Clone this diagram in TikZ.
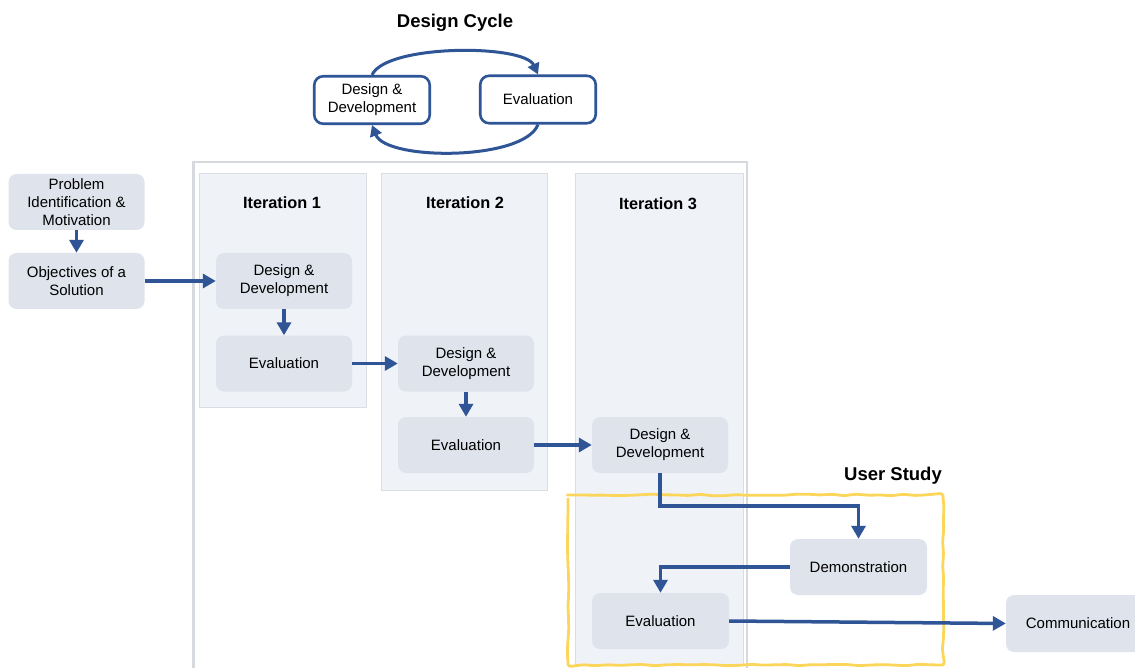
\documentclass[tikz,border=0pt]{standalone}
\usepackage{fontspec}
\setmainfont{Liberation Sans}
\usetikzlibrary{arrows.meta,decorations.pathmorphing}
\definecolor{flowblue}{HTML}{2F5597}
\definecolor{boxgray}{HTML}{DFE4EC}
\definecolor{panelgray}{HTML}{EFF2F7}
\definecolor{panelline}{HTML}{DADEE4}
\definecolor{framegray}{HTML}{D6DADF}
\definecolor{studyyellow}{HTML}{FCD65A}

\begin{document}
\begin{tikzpicture}[x=1pt,y=-1pt,
  stepnode/.style={rounded corners=8pt, fill=boxgray, minimum width=136pt,
    minimum height=56pt, inner sep=0pt, align=center,
    font=\fontsize{15}{18}\selectfont},
  cyclenode/.style={rounded corners=9pt, draw=flowblue, line width=2.6pt,
    fill=white, minimum width=115.5pt, minimum height=47.5pt, inner sep=0pt,
    align=center, font=\fontsize{15}{18}\selectfont},
  panel/.style={fill=panelgray, draw=panelline, line width=0.7pt},
  flow/.style={draw=flowblue, line width=3.5pt, line join=miter,
    -{Triangle[length=13pt,width=14pt]}},
  cyc/.style={draw=flowblue, line width=3pt,
    -{Triangle[length=11pt,width=12pt]}},
  title/.style={font=\bfseries\fontsize{18.5}{22}\selectfont},
  itlabel/.style={font=\bfseries\fontsize{16.3}{20}\selectfont},
]
\clip (0,0) rectangle (1135,668);
\fill[white] (0,0) rectangle (1135,668);

% design cycle
\node[title] (dctitle) at (455,23) {Design Cycle};
\node[cyclenode] (cdd) at (372,100) {Design \&\\Development};
\node[cyclenode] (cev) at (538,99.5) {Evaluation};
\draw[cyc] (cdd.north) .. controls (386,44) and (524,44) .. (cev.north);
\draw[cyc] (cev.south) .. controls (524,161) and (386,161) .. (cdd.south);

% outer frame of the iterations
\draw[framegray, line width=2.5pt, fill=white] (193.5,162) rectangle (747,680);

% iteration panels
\draw[panel] (199,173) rectangle (366,407);
\draw[panel] (381,173) rectangle (547,490);
\draw[panel] (575,173) rectangle (743,664);
\node[itlabel] (it1) at (282,203) {Iteration 1};
\node[itlabel] (it2) at (465,203) {Iteration 2};
\node[itlabel] (it3) at (658,204) {Iteration 3};

% user study frame
\pgfmathsetseed{11}
\draw[studyyellow, line width=2.8pt, line join=round, rounded corners=3pt,
  decorate, decoration={random steps, segment length=12pt, amplitude=0.9pt}]
  (568,495) rectangle (943,665);
\node[title] (ustitle) at (893,476) {User Study};

% process steps
\node[stepnode] (prob) at (76.5,202) {Problem\\Identification \&\\Motivation};
\node[stepnode] (obj)  at (76.5,281) {Objectives of a\\Solution};
\node[stepnode] (dd1)  at (284,281) {Design \&\\Development};
\node[stepnode] (ev1)  at (284,363.5) {Evaluation};
\node[stepnode] (dd2)  at (466,363.5) {Design \&\\Development};
\node[stepnode] (ev2)  at (466,445) {Evaluation};
\node[stepnode] (dd3)  at (660,445) {Design \&\\Development};
\node[stepnode, minimum width=137pt] (demo) at (858.5,567) {Demonstration};
\node[stepnode, minimum width=137pt] (ev3)  at (660.5,621) {Evaluation};
\node[stepnode, minimum width=144pt, minimum height=57pt] (comm) at (1078,623.5) {Communication};

% connectors
\coordinate (bend1) at (660,506);
\draw[flow] (prob) -- (obj);
\draw[flow] (obj) -- (dd1);
\draw[flow] (dd1) -- (ev1);
\draw[flow] (ev1) -- (dd2);
\draw[flow] (dd2) -- (ev2);
\draw[flow] (ev2) -- (dd3);
\draw[flow] (dd3.south) -- (bend1) -| (demo.north);
\draw[flow] (demo.west) -| (ev3.north);
\draw[flow] (ev3.east) -- (comm.west);
\end{tikzpicture}
\end{document}
